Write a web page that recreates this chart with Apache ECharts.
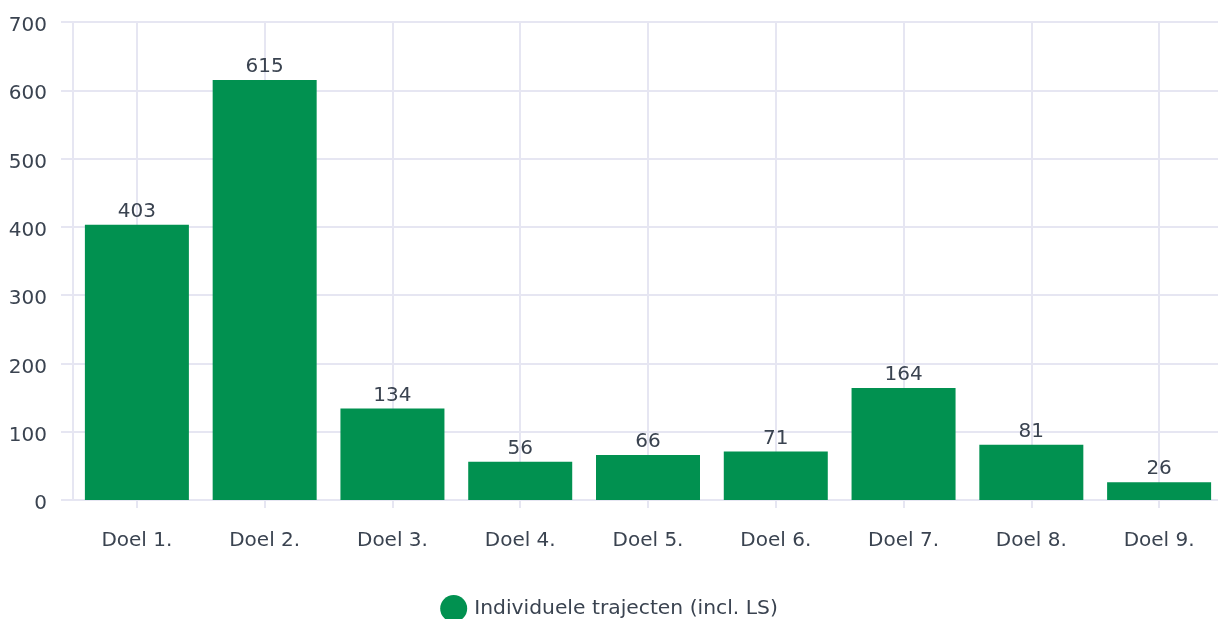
<!DOCTYPE html>
<html>
<head>
<meta charset="utf-8">
<script src="https://cdn.jsdelivr.net/npm/echarts@6/dist/echarts.min.js"></script>
<style>html,body{margin:0;padding:0;background:#fff}#c{width:1218px;height:619px}</style>
</head>
<body>
<div id="c"></div>
<script>
const categories = ['Doel 1.', 'Doel 2.', 'Doel 3.', 'Doel 4.', 'Doel 5.', 'Doel 6.', 'Doel 7.', 'Doel 8.', 'Doel 9.'];
const seriesName = 'Individuele trajecten (incl. LS)';
const values = [403, 615, 134, 56, 66, 71, 164, 81, 26];
const yMin = 0, yMax = 700, yStep = 100;

const gridColor = '#e6e6f2';
const textColor = '#3a4350';
const font = 'DejaVu Sans';

const chart = echarts.init(document.getElementById('c'), null, {renderer: 'canvas'});
chart.setOption({
  animation: false,
  textStyle: {fontFamily: font},
  grid: {left: 73, width: 1150, top: 22, bottom: 119, containLabel: false, outerBoundsMode: 'none'},
  legend: {
    data: [seriesName],
    bottom: -8,
    left: 'center',
    icon: 'circle',
    itemWidth: 27,
    itemHeight: 27,
    itemGap: 10,
    textStyle: {fontSize: 20.3, color: textColor, fontFamily: font, padding: [0, 0, 0, 2]}
  },
  xAxis: {
    type: 'category',
    data: categories,
    axisLine: {show: true, lineStyle: {color: gridColor, width: 2}},
    axisTick: {show: true, alignWithLabel: true, length: 8, lineStyle: {color: gridColor, width: 2}},
    axisLabel: {color: textColor, fontSize: 20, margin: 31, fontFamily: font},
    splitLine: {show: true, alignWithLabel: true, lineStyle: {color: gridColor, width: 2}}
  },
  yAxis: {
    type: 'value',
    min: yMin, max: yMax, interval: yStep,
    axisLine: {show: true, lineStyle: {color: gridColor, width: 2}},
    axisTick: {show: true, length: 12, lineStyle: {color: gridColor, width: 2}},
    axisLabel: {color: textColor, fontSize: 20, margin: 26, fontFamily: font, verticalAlign: 'top', lineHeight: 8},
    splitLine: {show: true, lineStyle: {color: gridColor, width: 2}}
  },
  series: [{
    name: seriesName,
    type: 'bar',
    data: values,
    barWidth: 104,
    itemStyle: {color: '#019150'},
    label: {show: true, position: 'top', distance: 3, color: textColor, fontSize: 20, fontFamily: font}
  }]
});
</script>
</body>
</html>
